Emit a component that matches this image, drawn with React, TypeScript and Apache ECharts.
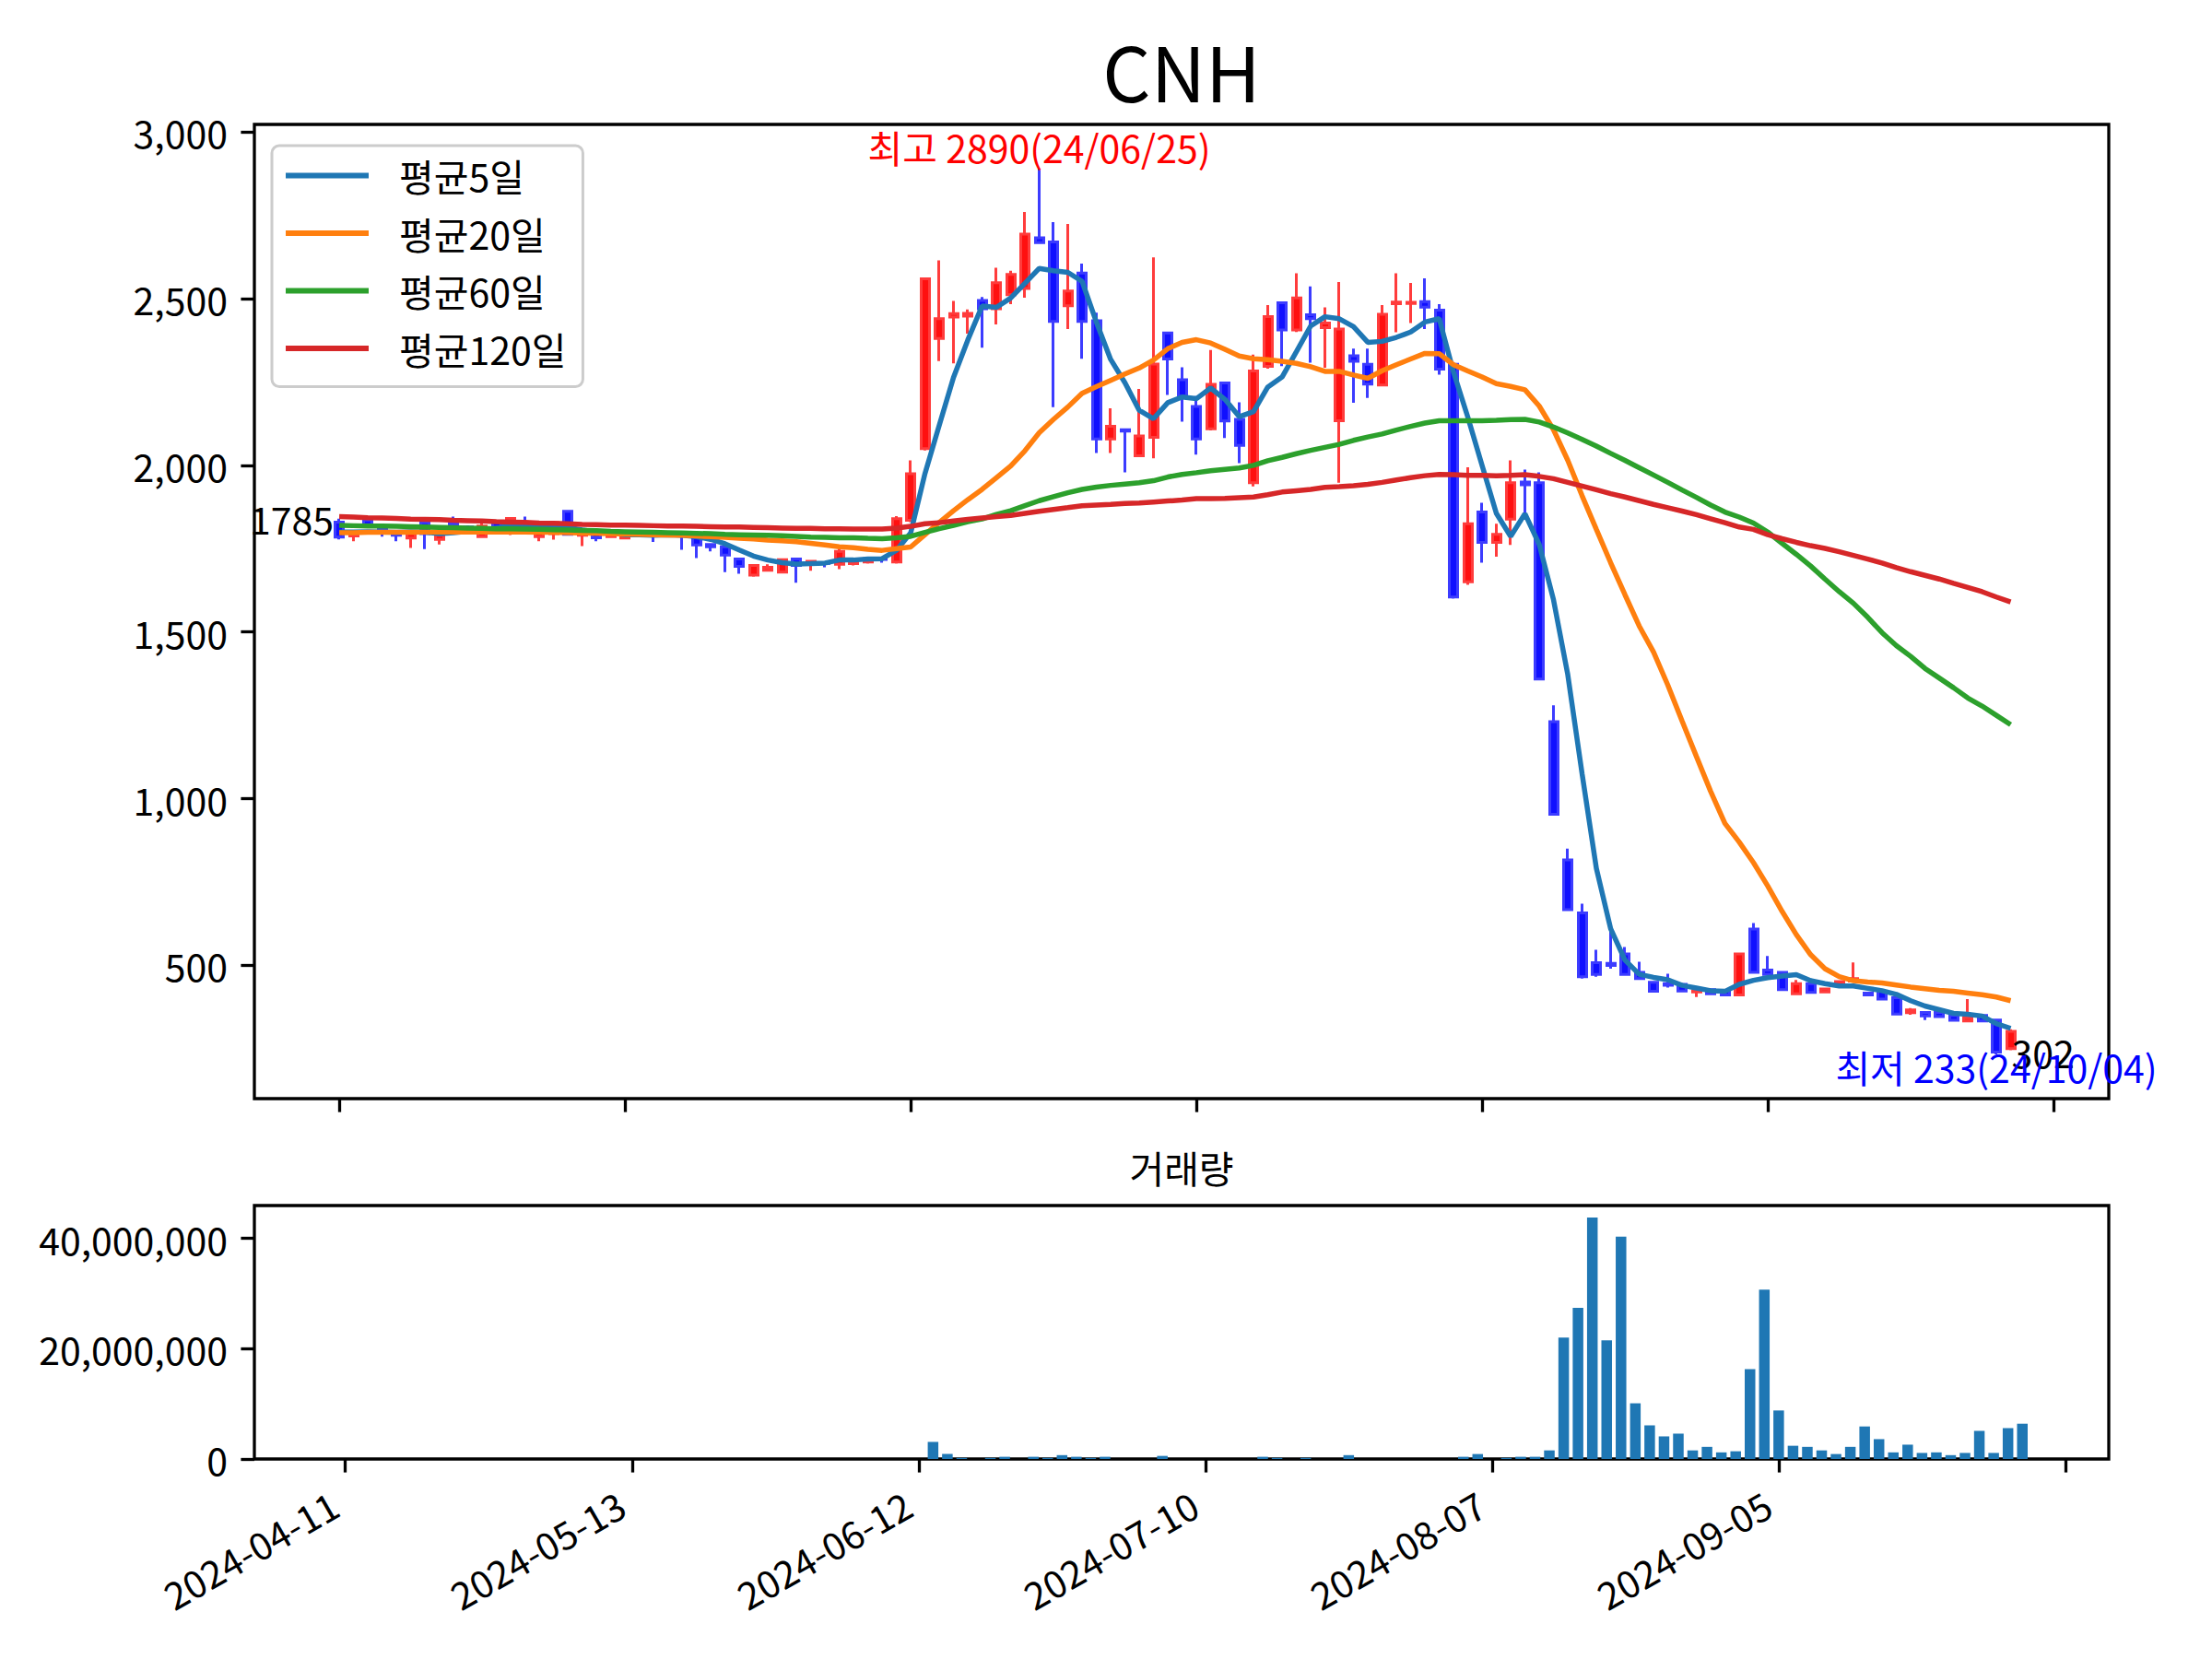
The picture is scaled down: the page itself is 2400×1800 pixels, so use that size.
import React, { useEffect, useRef } from 'react';
import * as echarts from 'echarts';

const FONT = '"Noto Sans CJK KR", "Noto Sans", sans-serif';

const chartTitle = 'CNH';
const volumeTitle = '거래량';
const peakDate = '24/06/25';
const troughDate = '24/10/04';

const openP = [
  1830, 1788, 1836, 1808, 1800, 1782, 1828, 1778, 1825, 1815,
  1786, 1828, 1828, 1815, 1786, 1795, 1862, 1790, 1800, 1786,
  1782, 1790, 1796, 1788, 1796, 1783, 1763, 1756, 1719, 1671,
  1685, 1680, 1719, 1703, 1708, 1703, 1705, 1710, 1722, 1710,
  1835, 2050, 2381, 2445, 2448, 2495, 2470, 2512, 2531, 2683,
  2670, 2479, 2577, 2434, 2079, 2107, 2029, 2084, 2397, 2257,
  2177, 2110, 2247, 2138, 1948, 2297, 2488, 2406, 2452, 2413,
  2134, 2329, 2303, 2241, 2485, 2486, 2491, 2466, 2303, 1651,
  1860, 1769, 1839, 1950, 1948, 1231, 816, 657, 508, 506,
  534, 479, 449, 445, 443, 420, 427, 424, 411, 609,
  486, 479, 415, 445, 420, 442, 453, 417, 422, 403,
  358, 359, 359, 350, 333, 350, 336, 250,
];

const closeP = [
  1785, 1800, 1822, 1800, 1790, 1795, 1795, 1790, 1818, 1812,
  1818, 1815, 1841, 1808, 1800, 1828, 1793, 1800, 1783, 1793,
  1790, 1792, 1790, 1795, 1790, 1761, 1756, 1731, 1697, 1700,
  1694, 1717, 1700, 1712, 1706, 1742, 1715, 1720, 1718, 1840,
  1975, 2560, 2440, 2455, 2456, 2470, 2548, 2573, 2694, 2668,
  2432, 2523, 2432, 2079, 2117, 2103, 2088, 2304, 2319, 2208,
  2079, 2243, 2133, 2060, 2283, 2446, 2406, 2502, 2440, 2427,
  2409, 2312, 2244, 2453, 2490, 2489, 2475, 2289, 1605, 1825,
  1769, 1793, 1948, 1942, 1359, 953, 667, 466, 473, 500,
  473, 460, 422, 440, 423, 424, 415, 411, 534, 479,
  473, 427, 445, 419, 429, 451, 460, 411, 399, 354,
  366, 348, 346, 335, 343, 333, 240, 302,
];

const lowP = [
  1778, 1772, 1818, 1786, 1772, 1752, 1749, 1763, 1815, 1808,
  1784, 1812, 1791, 1800, 1772, 1777, 1790, 1758, 1772, 1783,
  1780, 1786, 1770, 1786, 1747, 1722, 1742, 1680, 1675, 1666,
  1683, 1678, 1648, 1684, 1694, 1689, 1700, 1705, 1708, 1705,
  1830, 2045, 2313, 2306, 2395, 2353, 2423, 2484, 2503, 2665,
  2175, 2409, 2320, 2037, 2037, 1979, 2025, 2021, 2211, 2131,
  2032, 2105, 2082, 2007, 1937, 2290, 2298, 2400, 2308, 2293,
  1948, 2188, 2202, 2238, 2399, 2427, 2409, 2272, 1600, 1642,
  1708, 1726, 1761, 1856, 1355, 950, 665, 460, 466, 490,
  470, 458, 420, 433, 420, 405, 412, 408, 410, 477,
  470, 425, 413, 417, 418, 440, 451, 408, 397, 350,
  352, 336, 344, 333, 331, 330, 233, 245,
];

const highP = [
  1840, 1805, 1840, 1810, 1805, 1800, 1832, 1795, 1846, 1820,
  1837, 1830, 1843, 1846, 1803, 1830, 1865, 1805, 1803, 1796,
  1793, 1796, 1800, 1797, 1800, 1786, 1765, 1760, 1720, 1703,
  1703, 1719, 1722, 1715, 1712, 1750, 1720, 1724, 1726, 1848,
  2015, 2563, 2615, 2493, 2468, 2505, 2593, 2584, 2760, 2890,
  2730, 2724, 2605, 2458, 2171, 2110, 2229, 2624, 2400, 2294,
  2208, 2346, 2250, 2189, 2332, 2481, 2490, 2576, 2537, 2474,
  2550, 2350, 2350, 2481, 2576, 2547, 2561, 2484, 2305, 1994,
  1888, 1825, 2015, 1987, 1979, 1280, 850, 685, 547, 616,
  555, 511, 452, 475, 445, 426, 430, 428, 535, 627,
  528, 482, 456, 447, 431, 453, 509, 420, 424, 405,
  372, 361, 361, 352, 399, 352, 338, 308,
];

const volumeV = [
  0, 0, 0, 0, 0, 0, 0, 0, 0, 0,
  0, 0, 0, 0, 0, 0, 0, 0, 0, 0,
  0, 0, 0, 0, 0, 0, 0, 0, 0, 0,
  0, 0, 0, 0, 0, 0, 0, 0, 0, 0,
  0, 3100000, 900000, 200000, 0, 200000, 400000, 0, 400000, 200000,
  700000, 400000, 200000, 400000, 0, 0, 0, 560000, 0, 0,
  0, 0, 0, 0, 400000, 200000, 0, 200000, 0, 0,
  700000, 0, 0, 0, 0, 0, 0, 0, 400000, 900000,
  0, 200000, 400000, 400000, 1560000, 22000000, 27400000, 43800000, 21500000, 40300000,
  10100000, 6100000, 4100000, 4600000, 1560000, 2200000, 1200000, 1400000, 16300000, 30700000,
  8800000, 2400000, 2200000, 1560000, 900000, 2200000, 5900000, 3600000, 1200000, 2600000,
  1100000, 1200000, 700000, 1100000, 5100000, 1100000, 5600000, 6400000,
];

const ma5 = [
  1800, 1800, 1801, 1800, 1799, 1801, 1800, 1795, 1798, 1802,
  1807, 1811, 1820, 1819, 1816, 1818, 1814, 1806, 1801, 1798,
  1792, 1792, 1790, 1792, 1790, 1786, 1778, 1765, 1746, 1728,
  1716, 1708, 1704, 1705, 1707, 1716, 1716, 1719, 1720, 1745,
  1797, 1975, 2120, 2264, 2376, 2478, 2474, 2502, 2546, 2591,
  2584, 2579, 2552, 2430, 2318, 2248, 2165, 2140, 2188, 2205,
  2200, 2232, 2198, 2146, 2161, 2235, 2265, 2341, 2418, 2446,
  2440, 2416, 2369, 2372, 2384, 2400, 2430, 2440, 2280, 2145,
  2000, 1856, 1787, 1855, 1763, 1597, 1372, 1075, 791, 610,
  516, 473, 464, 457, 440, 432, 424, 422, 443, 455,
  463, 468, 472, 454, 445, 438, 438, 431, 424, 413,
  394, 378, 367, 356, 353, 348, 325, 311,
];

const ma20 = [
  1798, 1798, 1799, 1799, 1799, 1799, 1800, 1800, 1800, 1800,
  1800, 1800, 1800, 1800, 1799, 1799, 1798, 1797, 1796, 1795,
  1794, 1793, 1792, 1791, 1790, 1788, 1786, 1784, 1781, 1779,
  1776, 1774, 1771, 1766, 1761, 1756, 1753, 1748, 1745, 1750,
  1755, 1792, 1829, 1864, 1897, 1928, 1963, 1998, 2044, 2098,
  2138, 2175, 2216, 2236, 2255, 2274, 2292, 2316, 2350, 2369,
  2377, 2367, 2348, 2328, 2320, 2317, 2312, 2306, 2296, 2282,
  2282, 2271, 2261, 2284, 2302, 2319, 2336, 2335, 2302, 2283,
  2265, 2245, 2237, 2227, 2178, 2107, 2015, 1909, 1808, 1708,
  1612, 1518, 1440, 1341, 1233, 1127, 1022, 926, 870, 808,
  738, 662, 592, 532, 490, 466, 454, 450, 447, 441,
  435, 430, 425, 422, 417, 412, 405, 394,
];

const ma60 = [
  1820, 1819, 1818, 1818, 1817, 1816, 1815, 1814, 1813, 1812,
  1811, 1810, 1810, 1809, 1808, 1807, 1806, 1805, 1804, 1802,
  1801, 1800, 1799, 1798, 1797, 1796, 1795, 1793, 1792, 1791,
  1790, 1789, 1787, 1785, 1784, 1783, 1783, 1781, 1780, 1783,
  1787, 1799, 1810, 1820, 1831, 1839, 1853, 1864, 1879, 1894,
  1906, 1918, 1928, 1935, 1940, 1944, 1948, 1954, 1965, 1973,
  1978, 1984, 1988, 1992, 2000, 2014, 2024, 2035, 2045, 2054,
  2063, 2075, 2085, 2094, 2106, 2117, 2127, 2134, 2134, 2134,
  2134, 2135, 2137, 2138, 2130, 2115, 2097, 2078, 2058, 2036,
  2015, 1993, 1971, 1949, 1926, 1904, 1881, 1860, 1845, 1827,
  1800, 1766, 1733, 1698, 1659, 1621, 1586, 1544, 1498, 1459,
  1427, 1391, 1362, 1333, 1302, 1278, 1250, 1222,
];

const ma120 = [
  1846, 1845, 1843, 1842, 1841, 1839, 1838, 1837, 1835, 1834,
  1833, 1831, 1830, 1829, 1827, 1826, 1825, 1823, 1822, 1821,
  1821, 1820, 1819, 1818, 1818, 1817, 1816, 1815, 1815, 1814,
  1813, 1812, 1811, 1811, 1810, 1810, 1809, 1809, 1809, 1812,
  1817, 1825, 1828, 1833, 1838, 1842, 1846, 1850, 1856, 1862,
  1868, 1873, 1879, 1881, 1883, 1886, 1887, 1890, 1893, 1896,
  1900, 1900, 1901, 1903, 1905, 1912, 1920, 1924, 1928, 1934,
  1936, 1939, 1943, 1949, 1956, 1963, 1969, 1973, 1972, 1970,
  1970, 1969, 1970, 1972, 1967, 1960, 1949, 1938, 1927, 1915,
  1905, 1894, 1883, 1873, 1863, 1852, 1840, 1828, 1815, 1808,
  1792, 1780, 1769, 1759, 1751, 1741, 1730, 1719, 1707, 1693,
  1681, 1670, 1659, 1646, 1634, 1621, 1605, 1590,
];

const maNames = ['평균5일', '평균20일', '평균60일', '평균120일'];
const maColors = ['#1f77b4', '#ff7f0e', '#2ca02c', '#d62728'];
const maSeries = [ma5, ma20, ma60, ma120];

const xTickIdx = [0, 20, 40, 60, 80, 100, 120];
const xTickDates = ['2024-04-11', '2024-05-13', '2024-06-12', '2024-07-10', '2024-08-07', '2024-09-05'];
const priceTicks = [500, 1000, 1500, 2000, 2500, 3000];
const volumeTicks = [0, 20000000, 40000000];

const fmt = (v: number) => Math.round(v).toLocaleString('en-US');

export default function App() {
  const ref = useRef<HTMLDivElement>(null);

  useEffect(() => {
    if (!ref.current) return;
    const chart = echarts.init(ref.current, null, { renderer: 'svg', width: 2400, height: 1800 });

    const candleData = closeP.map((c, i) => [i, openP[i], c, lowP[i], highP[i]]);
    const volData = volumeV.map((v, i) => [i, v]);

    const tickStyle = { show: true, inside: false, length: 14.6, lineStyle: { color: '#000', width: 3.3 } };
    const labelBase = { color: '#000', fontSize: 41, fontFamily: FONT };

    const option: any = {
      animation: false,
      backgroundColor: '#ffffff',
      textStyle: { fontFamily: FONT },
      title: [
        {
          text: chartTitle, left: 1282, top: 34, textAlign: 'center', textVerticalAlign: 'top', padding: 0,
          textStyle: { fontSize: 82, fontWeight: 'normal', color: '#000', fontFamily: FONT },
        },
        {
          text: volumeTitle, left: 1282, top: 1245, textAlign: 'center', textVerticalAlign: 'top', padding: 0,
          textStyle: { fontSize: 41, fontWeight: 'normal', color: '#000', fontFamily: FONT },
        },
      ],
      legend: {
        show: true,
        orient: 'vertical',
        left: 295,
        top: 158,
        padding: [12, 18, 21, 15],
        itemGap: 21.5,
        itemWidth: 90,
        itemHeight: 6,
        icon: 'rect',
        selectedMode: false,
        backgroundColor: 'rgba(255,255,255,0.8)',
        borderColor: '#cccccc',
        borderWidth: 3,
        borderRadius: 8,
        itemStyle: { borderWidth: 0 },
        textStyle: { fontSize: 41, fontFamily: FONT, color: '#000', lineHeight: 40, padding: [0, 0, 0, 28] },
        data: maNames,
      },
      grid: [
        { left: 276, top: 135, width: 2012, height: 1057, show: true, borderColor: '#000', borderWidth: 3.3, backgroundColor: 'transparent', containLabel: false, outerBoundsMode: 'none' },
        { left: 276, top: 1308, width: 2012, height: 275, show: true, borderColor: '#000', borderWidth: 3.3, backgroundColor: 'transparent', containLabel: false, outerBoundsMode: 'none' },
      ],
      xAxis: [
        {
          type: 'value', gridIndex: 0, min: -5.94, max: 123.87,
          axisLine: { show: false, onZero: false },
          axisTick: { ...tickStyle, customValues: xTickIdx },
          axisLabel: { show: false },
          splitLine: { show: false },
        },
        {
          type: 'value', gridIndex: 1, min: -6.35, max: 123.03,
          axisLine: { show: false, onZero: false },
          axisTick: { ...tickStyle, customValues: xTickIdx },
          axisLabel: {
            ...labelBase,
            show: true,
            customValues: xTickIdx.slice(0, xTickDates.length),
            formatter: (v: number) => xTickDates[Math.round(v / 20)] ?? '',
            rotate: 30,
            margin: 38,
            padding: [0, 14, 0, 0],
          },
          splitLine: { show: false },
        },
      ],
      yAxis: [
        {
          type: 'value', gridIndex: 0, min: 100.15, max: 3022.85,
          axisLine: { show: false, onZero: false },
          axisTick: { ...tickStyle, customValues: priceTicks },
          axisLabel: { ...labelBase, customValues: priceTicks, formatter: fmt, margin: 29 },
          splitLine: { show: false },
        },
        {
          type: 'value', gridIndex: 1, min: 0, max: 45960000,
          axisLine: { show: false, onZero: false },
          axisTick: { ...tickStyle, customValues: volumeTicks },
          axisLabel: { ...labelBase, customValues: volumeTicks, formatter: fmt, margin: 29 },
          splitLine: { show: false },
        },
      ],
      series: [
        {
          type: 'candlestick',
          name: 'candle',
          xAxisIndex: 0,
          yAxisIndex: 0,
          data: candleData,
          barWidth: 9.5,
          itemStyle: {
            color: '#ff1010',
            color0: '#1010ff',
            borderColor: '#ff3c3c',
            borderColor0: '#3c3cff',
            borderWidth: 3,
          },
          z: 2,
        },
        ...maSeries.map((arr, k) => ({
          type: 'line',
          name: maNames[k],
          xAxisIndex: 0,
          yAxisIndex: 0,
          data: arr.map((v, i) => [i, v]),
          symbol: 'none',
          showSymbol: false,
          smooth: false,
          lineStyle: { color: maColors[k], width: 5.5 },
          itemStyle: { color: maColors[k] },
          z: 3,
        })),
        {
          type: 'bar',
          name: 'volume',
          xAxisIndex: 1,
          yAxisIndex: 1,
          data: volData,
          barWidth: 11.5,
          itemStyle: { color: '#1f77b4' },
        },
      ],
    };

    chart.setOption(option);

    // annotations placed through the chart's own scales
    const pt = (x: number, y: number) => chart.convertToPixel({ xAxisIndex: 0, yAxisIndex: 0 }, [x, y]) as number[];
    let peakIdx = 0;
    let troughIdx = 0;
    highP.forEach((v, i) => { if (v > highP[peakIdx]) peakIdx = i; });
    lowP.forEach((v, i) => { if (v < lowP[troughIdx]) troughIdx = i; });
    const last = closeP.length - 1;
    const pFirst = pt(0, closeP[0]);
    const pLast = pt(last, closeP[last]);
    const pPeak = pt(peakIdx, highP[peakIdx]);
    const pTrough = pt(troughIdx, lowP[troughIdx]);
    const txt = (x: number, y: number, text: string, fill: string, align: string) => ({
      type: 'text', x, y, silent: true, z: 10,
      style: { text, fill, fontSize: 41, fontFamily: FONT, align, verticalAlign: 'middle' },
    });
    chart.setOption({
      graphic: [
        txt(pFirst[0] - 6, pFirst[1] - 21, String(closeP[0]), '#000', 'right'),
        txt(pLast[0] + 1, pLast[1] + 22, String(closeP[last]), '#000', 'left'),
        txt(pPeak[0], pPeak[1] - 24, `최고 ${highP[peakIdx]}(${peakDate})`, '#ff0000', 'center'),
        txt(pTrough[0], pTrough[1] + 13, `최저 ${lowP[troughIdx]}(${troughDate})`, '#0000ff', 'center'),
      ],
    });

    return () => chart.dispose();
  }, []);

  return (
    <div
      ref={ref}
      style={{ position: 'fixed', left: 0, top: 0, width: 2400, height: 1800, background: '#ffffff' }}
    />
  );
}
